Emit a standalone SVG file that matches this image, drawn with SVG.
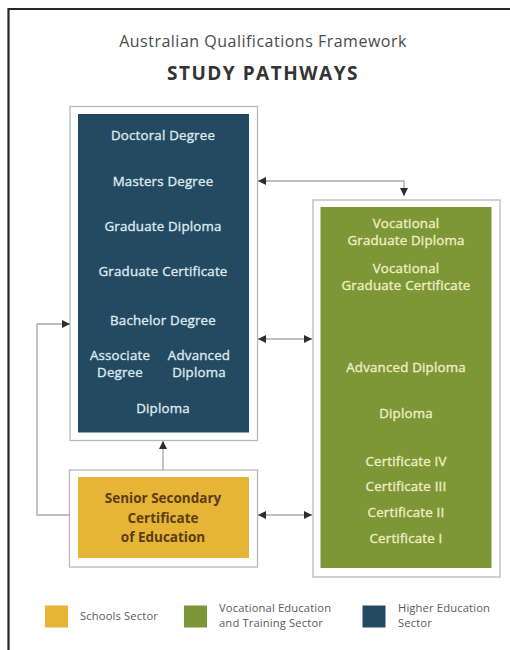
<svg xmlns="http://www.w3.org/2000/svg" width="510" height="650" viewBox="0 0 510 650">
  <defs>
    <marker id="arrow" viewBox="0 0 10 10" refX="10" refY="5" markerWidth="10" markerHeight="8" markerUnits="userSpaceOnUse" orient="auto-start-reverse">
      <path d="M0,0 L10,5 L0,10 z" fill="#2e2e2e"/>
    </marker>
    <style>
      .frame { fill: none; stroke: #262626; stroke-width: 2.2; }
      .outer { fill: #ffffff; stroke: #b9b9bd; stroke-width: 1.3; }
      .he { fill: #244a62; }
      .vet { fill: #7c9737; }
      .school { fill: #e6b437; }
      .t { font-family: "Open Sans", "Liberation Sans", sans-serif; text-anchor: middle; }
      .he-t { fill: #dfe9ee; stroke: #dfe9ee; stroke-width: 0.35px; font-size: 13.3px; letter-spacing: 0.2px; }
      .vet-t { fill: #f1eec4; stroke: #f1eec4; stroke-width: 0.35px; font-size: 13.3px; letter-spacing: 0.2px; }
      .school-t { fill: #5b3d12; font-size: 13.5px; font-weight: 700; }
      .legend-t { font-family: "Open Sans", "Liberation Sans", sans-serif; fill: #5a5a5a; font-size: 11.2px; letter-spacing: 0.15px; }
      .link { fill: none; stroke: #a8a8ac; stroke-width: 1.3; }
    </style>
  </defs>

  <rect width="510" height="650" fill="#ffffff"/>
  <!-- page frame: top and left rules -->
  <path class="frame" d="M8.5,650 V9 H510"/>

  <!-- heading -->
  <text class="t" x="263" y="47" fill="#4a4a4a" font-size="16" letter-spacing="0.5">Australian Qualifications Framework</text>
  <text class="t" x="263" y="80" fill="#333333" font-size="19" font-weight="700" letter-spacing="1.5">STUDY PATHWAYS</text>

  <!-- Higher Education -->
  <g id="higher-education">
    <rect class="outer" x="70" y="106.5" width="187.5" height="334"/>
    <rect class="he" x="78" y="114" width="171" height="318.5"/>
    <text class="t he-t" x="163" y="140">Doctoral Degree</text>
    <text class="t he-t" x="163" y="186">Masters Degree</text>
    <text class="t he-t" x="163" y="231">Graduate Diploma</text>
    <text class="t he-t" x="163" y="276">Graduate Certificate</text>
    <text class="t he-t" x="163" y="325">Bachelor Degree</text>
    <text class="t he-t" x="120" y="360">Associate</text>
    <text class="t he-t" x="120" y="377">Degree</text>
    <text class="t he-t" x="199" y="360">Advanced</text>
    <text class="t he-t" x="199" y="377">Diploma</text>
    <text class="t he-t" x="163" y="413">Diploma</text>
  </g>

  <!-- Vocational Education and Training -->
  <g id="vocational">
    <rect class="outer" x="313" y="200" width="187" height="377"/>
    <rect class="vet" x="320.5" y="207" width="171" height="361"/>
    <text class="t vet-t" x="406" y="228">Vocational</text>
    <text class="t vet-t" x="406" y="245">Graduate Diploma</text>
    <text class="t vet-t" x="406" y="273">Vocational</text>
    <text class="t vet-t" x="406" y="290">Graduate Certificate</text>
    <text class="t vet-t" x="406" y="372">Advanced Diploma</text>
    <text class="t vet-t" x="406" y="418">Diploma</text>
    <text class="t vet-t" x="406" y="466">Certificate IV</text>
    <text class="t vet-t" x="406" y="491">Certificate III</text>
    <text class="t vet-t" x="406" y="517">Certificate II</text>
    <text class="t vet-t" x="406" y="543">Certificate I</text>
  </g>

  <!-- Schools -->
  <g id="schools">
    <rect class="outer" x="69.5" y="470" width="188" height="97"/>
    <rect class="school" x="78" y="477" width="171" height="81"/>
    <text class="t school-t" x="163" y="503">Senior Secondary</text>
    <text class="t school-t" x="163" y="523">Certificate</text>
    <text class="t school-t" x="163" y="542">of Education</text>
  </g>

  <!-- pathways -->
  <g id="connectors">
    <path class="link" d="M404,196 V181 H258" marker-start="url(#arrow)" marker-end="url(#arrow)"/>
    <path class="link" d="M258,339 H312" marker-start="url(#arrow)" marker-end="url(#arrow)"/>
    <path class="link" d="M258,515 H312" marker-start="url(#arrow)" marker-end="url(#arrow)"/>
    <path class="link" d="M163,470 V441" marker-end="url(#arrow)"/>
    <path class="link" d="M69.5,515 H37 V324 H70" marker-end="url(#arrow)"/>
  </g>

  <!-- legend -->
  <g id="legend">
    <rect class="school" x="45" y="605.5" width="23" height="22"/>
    <text class="legend-t" x="80" y="620">Schools Sector</text>
    <rect class="vet" x="184" y="605.5" width="23" height="22"/>
    <text class="legend-t" x="219" y="612">Vocational Education</text>
    <text class="legend-t" x="219" y="627">and Training Sector</text>
    <rect class="he" x="362.5" y="605.5" width="23" height="22"/>
    <text class="legend-t" x="398" y="612">Higher Education</text>
    <text class="legend-t" x="398" y="627">Sector</text>
  </g>
</svg>
